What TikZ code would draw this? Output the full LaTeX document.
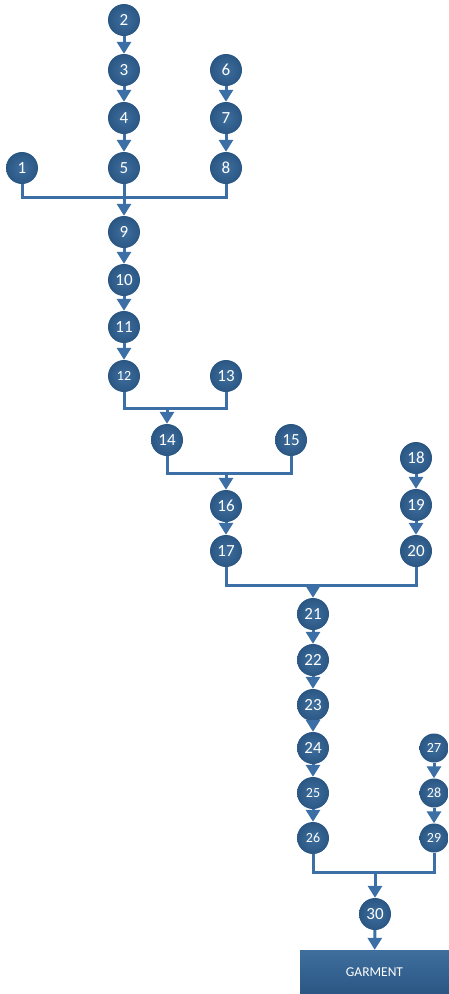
\documentclass[tikz,border=0pt]{standalone}
\usepackage{fontspec}
\setmainfont{Carlito}
\usepackage{xcolor}
\usepackage{tikz}
\usetikzlibrary{arrows.meta}
\usetikzlibrary{positioning}
\definecolor{azulnode}{HTML}{2A5683}
\definecolor{azulclaro}{HTML}{3F6F9E}
\definecolor{azullinha}{HTML}{3B6FA5}
\tikzset{
  etapa/.style={circle, draw=none, shading=radial, inner color=azulclaro, outer color=azulnode, text=white, minimum size=#1, inner sep=0pt, font=\fontsize{17}{17}\selectfont},
  etapa/.default=32pt,
  menor/.style={font=\fontsize{14}{14}\selectfont},
  produto/.style={rectangle, draw=none, top color=azulclaro, bottom color=azulnode, text=white, minimum width=149pt, minimum height=44pt, inner sep=0pt, font=\fontsize{13.5}{13.5}\selectfont},
  linha/.style={draw=azullinha, line width=3pt},
  seta/.style={linha, -{Triangle[length=12pt, width=14pt]}},
}

\begin{document}
\begin{tikzpicture}[x=1pt, y=-1pt]
  \useasboundingbox (0,0) rectangle (449,994);

  % primeiro grupo
  \node[etapa] (op1) at (22,168) {1};
  \node[etapa] (op2) at (124,20) {2};
  \node[etapa] (op3) at (124,70) {3};
  \node[etapa] (op4) at (124,118) {4};
  \node[etapa] (op5) at (124,168) {5};
  \node[etapa] (op6) at (226,70) {6};
  \node[etapa] (op7) at (226,118) {7};
  \node[etapa] (op8) at (226,168) {8};
  \draw[seta] (op2) -- (op3);
  \draw[seta] (op3) -- (op4);
  \draw[seta] (op4) -- (op5);
  \draw[seta] (op6) -- (op7);
  \draw[seta] (op7) -- (op8);

  \node[etapa] (op9) at (124,232) {9};
  \node[etapa] (op10) at (124,280) {10};
  \node[etapa] (op11) at (124,327) {11};
  \node[etapa, menor] (op12) at (124,376) {12};
  \node[etapa] (op13) at (226,376) {13};
  \coordinate (j1) at (124,197);
  \draw[linha] (op1) |- (j1) -| (op8);
  \draw[seta] (op5) -- (op9);
  \draw[seta] (op9) -- (op10);
  \draw[seta] (op10) -- (op11);
  \draw[seta] (op11) -- (op12);

  % segundo grupo
  \node[etapa] (op14) at (167,440) {14};
  \node[etapa] (op15) at (291,440) {15};
  \coordinate (j2) at (167,408);
  \draw[linha] (op12) |- (j2) -| (op13);
  \draw[seta] (j2) -- (op14);

  \node[etapa] (op16) at (226,506) {16};
  \node[etapa] (op17) at (226,551) {17};
  \node[etapa] (op18) at (416,458) {18};
  \node[etapa] (op19) at (416,505) {19};
  \node[etapa] (op20) at (416,551) {20};
  \coordinate (j3) at (226,473);
  \draw[linha] (op14) |- (j3) -| (op15);
  \draw[seta] (j3) -- (op16);
  \draw[seta] (op16) -- (op17);
  \draw[seta] (op18) -- (op19);
  \draw[seta] (op19) -- (op20);

  % terceiro grupo
  \node[etapa] (op21) at (313,614) {21};
  \node[etapa] (op22) at (313,660) {22};
  \node[etapa] (op23) at (313,705) {23};
  \node[etapa] (op24) at (313,748) {24};
  \node[etapa, menor] (op25) at (313,793) {25};
  \node[etapa, menor] (op26) at (313,838) {26};
  \node[etapa=29pt, menor] (op27) at (434,748) {27};
  \node[etapa=29pt, menor] (op28) at (434,793) {28};
  \node[etapa=29pt, menor] (op29) at (434,838) {29};
  \coordinate (j4) at (313,585);
  \draw[linha] (op17) |- (j4) -| (op20);
  \draw[seta] (j4) -- (op21);
  \draw[seta] (op21) -- (op22);
  \draw[seta] (op22) -- (op23);
  \draw[seta] (op23) -- (op24);
  \draw[seta] (op24) -- (op25);
  \draw[seta] (op25) -- (op26);
  \draw[seta] (op27) -- (op28);
  \draw[seta] (op28) -- (op29);

  % final
  \node[etapa] (op30) at (375,914) {30};
  \node[produto] (peca) at (374.5,972) {GARMENT};
  \coordinate (j5) at (375,872);
  \draw[linha] (op26) |- (j5) -| (op29);
  \draw[seta] (j5) -- (op30);
  \draw[seta] (op30) -- (peca);
\end{tikzpicture}
\end{document}
